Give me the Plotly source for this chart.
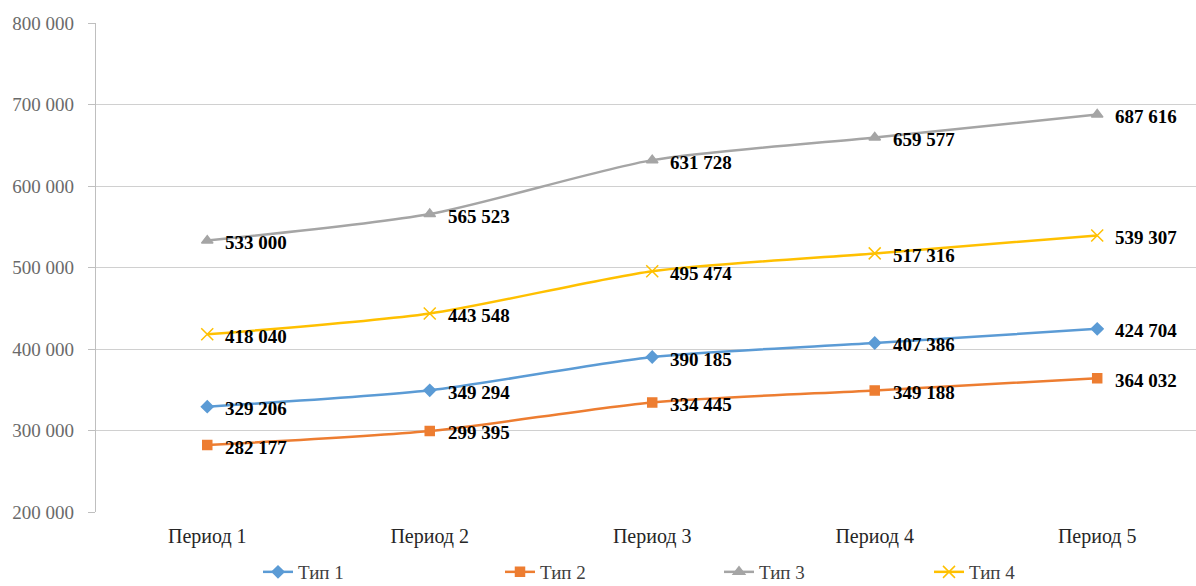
import plotly.graph_objects as go

periods = ["Период 1", "Период 2", "Период 3", "Период 4", "Период 5"]
type1 = [329206, 349294, 390185, 407386, 424704]
type2 = [282177, 299395, 334445, 349188, 364032]
type3 = [533000, 565523, 631728, 659577, 687616]
type4 = [418040, 443548, 495474, 517316, 539307]
names = ["Тип 1", "Тип 2", "Тип 3", "Тип 4"]
y_ticks = [200000, 300000, 400000, 500000, 600000, 700000, 800000]

series = [type1, type2, type3, type4]
colors = ["#5B9BD5", "#ED7D31", "#A5A5A5", "#FFC000"]
symbols = ["diamond", "square", "triangle-up", "x-thin-open"]
sizes = [9, 9, 10, 12]
legend_ids = ["legend", "legend2", "legend3", "legend4"]
# left edge (px) of each legend entry along the bottom row
legend_px = [258, 500, 719, 929]

W, H = 1196, 586
ML, MR, MT, MB = 96, 0, 23, 74


def fmt(v):
    return f"{v:,}".replace(",", " ")


fig = go.Figure()
for name, vals, col, sym, sz, lid in zip(names, series, colors, symbols, sizes, legend_ids):
    fig.add_trace(go.Scatter(
        x=periods, y=vals, name=name, mode="lines+markers", legend=lid,
        line=dict(color=col, width=2.5, shape="spline", smoothing=0.7),
        marker=dict(symbol=sym, size=sz, color=col,
                    line=dict(color=col, width=1.5)),
    ))
    for p, v in zip(periods, vals):
        fig.add_annotation(
            x=p, y=v, text=fmt(v), showarrow=False,
            xanchor="left", yanchor="middle", xshift=16, yshift=-2,
            font=dict(family="Liberation Serif", size=19, color="#000000", weight="bold"),
        )

legend_font = dict(family="Liberation Serif", size=19, color="#404040")
legend_layout = {}
for lid, px in zip(legend_ids, legend_px):
    legend_layout[lid] = dict(
        orientation="h", xref="container", yref="container",
        x=px / W, xanchor="left", y=1 - 572 / H, yanchor="middle",
        font=legend_font, bgcolor="rgba(0,0,0,0)",
    )

fig.update_layout(
    width=W, height=H,
    margin=dict(l=ML, r=MR, t=MT, b=MB, autoexpand=False),
    paper_bgcolor="white", plot_bgcolor="white",
    font=dict(family="Liberation Serif"),
    showlegend=True,
    **legend_layout,
)
fig.update_xaxes(
    type="category", range=[-0.5, 4.444],
    showgrid=False, showline=False, zeroline=False,
    ticks="", ticklabelstandoff=10,
    tickfont=dict(family="Liberation Serif", size=20, color="#262626"),
)
fig.update_yaxes(
    range=[200000, 800000], tickvals=y_ticks,
    ticktext=[fmt(t) for t in y_ticks],
    showgrid=True, gridcolor="#D0D0D0", gridwidth=1.3,
    showline=True, linecolor="#BFBFBF", linewidth=1.3,
    ticks="outside", ticklen=7, tickcolor="#BFBFBF",
    ticklabelstandoff=10, zeroline=False,
    tickfont=dict(family="Liberation Serif", size=19, color="#6A6A6A"),
)

fig.write_html("out.html")
